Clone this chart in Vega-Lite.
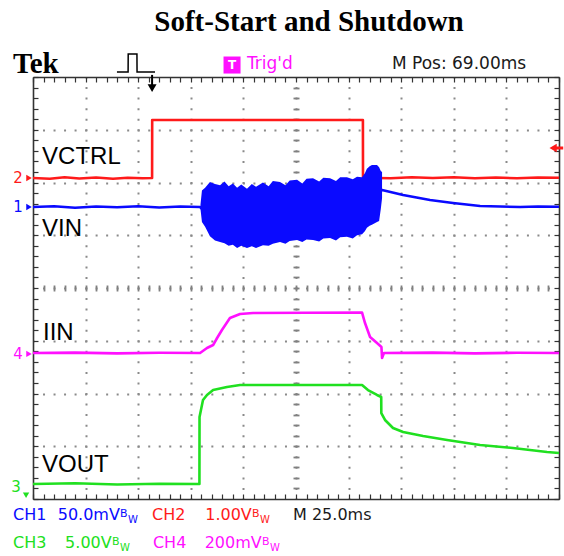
{
  "$schema": "https://vega.github.io/schema/vega-lite/v6.json",
  "width": 526,
  "height": 422,
  "autosize": {"type": "none"},
  "padding": {"left": 33, "top": 77, "right": 5, "bottom": 57},
  "background": "white",
  "title": {"text": "Soft-Start and Shutdown", "font": "Liberation Serif", "fontSize": 29, "fontWeight": "bold", "color": "#000000", "anchor": "middle", "frame": "group", "dx": 13, "offset": -10, "baseline": "alphabetic"},
  "config": {"view": {"stroke": null}},
  "resolve": {"axis": {"x": "independent", "y": "independent"}},
  "datasets": {
    "traces": [
      {"ch": "CH2", "t": 0, "v": 2.085}, {"ch": "CH2", "t": 8, "v": 2.07}, {"ch": "CH2", "t": 15, "v": 2.1}, {"ch": "CH2", "t": 22, "v": 2.075}, {"ch": "CH2", "t": 30, "v": 2.095}, {"ch": "CH2", "t": 38, "v": 2.07}, {"ch": "CH2", "t": 45, "v": 2.09}, {"ch": "CH2", "t": 52, "v": 2.08}, {"ch": "CH2", "t": 56.6, "v": 2.085}, {"ch": "CH2", "t": 56.65, "v": 3.185}, {"ch": "CH2", "t": 156.8, "v": 3.185}, {"ch": "CH2", "t": 156.85, "v": 2.09}, {"ch": "CH2", "t": 170, "v": 2.08}, {"ch": "CH2", "t": 180, "v": 2.1}, {"ch": "CH2", "t": 190, "v": 2.085}, {"ch": "CH2", "t": 200, "v": 2.1}, {"ch": "CH2", "t": 210, "v": 2.08}, {"ch": "CH2", "t": 220, "v": 2.095}, {"ch": "CH2", "t": 230, "v": 2.08}, {"ch": "CH2", "t": 240, "v": 2.095}, {"ch": "CH2", "t": 250, "v": 2.09},
      {"ch": "CH1", "t": 0, "v": 1.536}, {"ch": "CH1", "t": 10, "v": 1.55}, {"ch": "CH1", "t": 20, "v": 1.52}, {"ch": "CH1", "t": 30, "v": 1.545}, {"ch": "CH1", "t": 40, "v": 1.53}, {"ch": "CH1", "t": 50, "v": 1.55}, {"ch": "CH1", "t": 60, "v": 1.525}, {"ch": "CH1", "t": 70, "v": 1.545}, {"ch": "CH1", "t": 79.4, "v": 1.536}, {"ch": "CH1", "t": 80.3, "v": 1.5}, {"ch": "CH1", "t": 100, "v": 1.4}, {"ch": "CH1", "t": 160, "v": 1.6}, {"ch": "CH1", "t": 165.9, "v": 1.858}, {"ch": "CH1", "t": 175.9, "v": 1.763}, {"ch": "CH1", "t": 188.7, "v": 1.668}, {"ch": "CH1", "t": 199.6, "v": 1.611}, {"ch": "CH1", "t": 212.5, "v": 1.554}, {"ch": "CH1", "t": 222, "v": 1.545}, {"ch": "CH1", "t": 231.5, "v": 1.536}, {"ch": "CH1", "t": 240, "v": 1.545}, {"ch": "CH1", "t": 250, "v": 1.54},
      {"ch": "CH4", "t": 0, "v": -1.232}, {"ch": "CH4", "t": 20, "v": -1.225}, {"ch": "CH4", "t": 40, "v": -1.24}, {"ch": "CH4", "t": 60, "v": -1.228}, {"ch": "CH4", "t": 79.4, "v": -1.232}, {"ch": "CH4", "t": 82.7, "v": -1.137}, {"ch": "CH4", "t": 85.6, "v": -1.081}, {"ch": "CH4", "t": 87.5, "v": -0.948}, {"ch": "CH4", "t": 89.8, "v": -0.796}, {"ch": "CH4", "t": 93.6, "v": -0.569}, {"ch": "CH4", "t": 98.4, "v": -0.493}, {"ch": "CH4", "t": 104.6, "v": -0.474}, {"ch": "CH4", "t": 130, "v": -0.47}, {"ch": "CH4", "t": 156.4, "v": -0.465}, {"ch": "CH4", "t": 157.8, "v": -0.664}, {"ch": "CH4", "t": 160.2, "v": -0.929}, {"ch": "CH4", "t": 163.5, "v": -1.043}, {"ch": "CH4", "t": 165.6, "v": -1.118}, {"ch": "CH4", "t": 165.9, "v": -1.327}, {"ch": "CH4", "t": 166.8, "v": -1.232}, {"ch": "CH4", "t": 190, "v": -1.225}, {"ch": "CH4", "t": 210, "v": -1.24}, {"ch": "CH4", "t": 230, "v": -1.228}, {"ch": "CH4", "t": 250, "v": -1.232},
      {"ch": "CH3", "t": 0, "v": -3.716}, {"ch": "CH3", "t": 20, "v": -3.7}, {"ch": "CH3", "t": 40, "v": -3.725}, {"ch": "CH3", "t": 60, "v": -3.71}, {"ch": "CH3", "t": 79.1, "v": -3.716}, {"ch": "CH3", "t": 79.15, "v": -2.445}, {"ch": "CH3", "t": 79.85, "v": -2.31}, {"ch": "CH3", "t": 80.8, "v": -2.123}, {"ch": "CH3", "t": 82.7, "v": -2.028}, {"ch": "CH3", "t": 85.6, "v": -1.934}, {"ch": "CH3", "t": 92.2, "v": -1.877}, {"ch": "CH3", "t": 98.4, "v": -1.839}, {"ch": "CH3", "t": 156.4, "v": -1.839}, {"ch": "CH3", "t": 159.2, "v": -1.934}, {"ch": "CH3", "t": 163.5, "v": -2.028}, {"ch": "CH3", "t": 165.5, "v": -2.066}, {"ch": "CH3", "t": 165.55, "v": -2.37}, {"ch": "CH3", "t": 167.3, "v": -2.502}, {"ch": "CH3", "t": 171.1, "v": -2.654}, {"ch": "CH3", "t": 175.9, "v": -2.73}, {"ch": "CH3", "t": 185.4, "v": -2.806}, {"ch": "CH3", "t": 196.8, "v": -2.882}, {"ch": "CH3", "t": 212.5, "v": -2.976}, {"ch": "CH3", "t": 228.1, "v": -3.033}, {"ch": "CH3", "t": 244.3, "v": -3.109}, {"ch": "CH3", "t": 250, "v": -3.128}
    ],
    "burst": [
      {"ch": "CH1", "t": 79.6, "hi": 1.58, "lo": 1.5}, {"ch": "CH1", "t": 80.3, "hi": 1.85, "lo": 1.25}, {"ch": "CH1", "t": 81.8, "hi": 1.9, "lo": 1.16}, {"ch": "CH1", "t": 84.1, "hi": 2.01, "lo": 0.98}, {"ch": "CH1", "t": 86.5, "hi": 1.97, "lo": 0.9}, {"ch": "CH1", "t": 88.9, "hi": 1.95, "lo": 0.87}, {"ch": "CH1", "t": 91, "hi": 2.02, "lo": 0.85}, {"ch": "CH1", "t": 93, "hi": 1.93, "lo": 0.8}, {"ch": "CH1", "t": 95, "hi": 1.98, "lo": 0.82}, {"ch": "CH1", "t": 97, "hi": 1.9, "lo": 0.76}, {"ch": "CH1", "t": 99, "hi": 1.96, "lo": 0.8}, {"ch": "CH1", "t": 101.7, "hi": 1.88, "lo": 0.76}, {"ch": "CH1", "t": 104, "hi": 1.97, "lo": 0.79}, {"ch": "CH1", "t": 106, "hi": 1.92, "lo": 0.76}, {"ch": "CH1", "t": 109.3, "hi": 2.0, "lo": 0.81}, {"ch": "CH1", "t": 112, "hi": 1.93, "lo": 0.8}, {"ch": "CH1", "t": 114, "hi": 2.03, "lo": 0.84}, {"ch": "CH1", "t": 117.4, "hi": 2.01, "lo": 0.87}, {"ch": "CH1", "t": 120, "hi": 1.95, "lo": 0.84}, {"ch": "CH1", "t": 122, "hi": 2.04, "lo": 0.89}, {"ch": "CH1", "t": 125.5, "hi": 2.05, "lo": 0.91}, {"ch": "CH1", "t": 128, "hi": 1.98, "lo": 0.87}, {"ch": "CH1", "t": 130, "hi": 2.07, "lo": 0.92}, {"ch": "CH1", "t": 133.1, "hi": 2.08, "lo": 0.91}, {"ch": "CH1", "t": 136, "hi": 2.02, "lo": 0.88}, {"ch": "CH1", "t": 138, "hi": 2.09, "lo": 0.94}, {"ch": "CH1", "t": 141.2, "hi": 2.08, "lo": 0.95}, {"ch": "CH1", "t": 144, "hi": 2.03, "lo": 0.9}, {"ch": "CH1", "t": 146, "hi": 2.1, "lo": 0.96}, {"ch": "CH1", "t": 149.2, "hi": 2.1, "lo": 0.97}, {"ch": "CH1", "t": 152, "hi": 2.06, "lo": 0.94}, {"ch": "CH1", "t": 154, "hi": 2.11, "lo": 1.0}, {"ch": "CH1", "t": 156.4, "hi": 2.1, "lo": 1.02}, {"ch": "CH1", "t": 157.8, "hi": 2.18, "lo": 1.08}, {"ch": "CH1", "t": 158.7, "hi": 2.26, "lo": 1.14}, {"ch": "CH1", "t": 160, "hi": 2.31, "lo": 1.18}, {"ch": "CH1", "t": 161.1, "hi": 2.33, "lo": 1.2}, {"ch": "CH1", "t": 163.5, "hi": 2.33, "lo": 1.25}, {"ch": "CH1", "t": 164.5, "hi": 2.29, "lo": 1.27}, {"ch": "CH1", "t": 165.3, "hi": 2.22, "lo": 1.5}, {"ch": "CH1", "t": 165.9, "hi": 2.2, "lo": 1.7}
    ],
    "labels": [
      {"label": "VCTRL", "t": 4.3, "v": 2.35}, {"label": "VIN", "t": 4.3, "v": 0.986}, {"label": "IIN", "t": 4.75, "v": -0.986}, {"label": "VOUT", "t": 4.3, "v": -3.488}
    ],
    "header": [
      {"text": "Trig'd", "ch": "CH4", "t": 101.7, "v": 4.152}, {"text": "M Pos: 69.00ms", "ch": "M", "t": 170.6, "v": 4.152}
    ],
    "footer": [
      {"text": "CH1", "ch": "CH1", "t": -9.5, "v": -4.398}, {"text": "CH2", "ch": "CH2", "t": 56.6, "v": -4.398}, {"text": "M 25.0ms", "ch": "M", "t": 123.6, "v": -4.398},
      {"text": "CH3", "ch": "CH3", "t": -9.5, "v": -4.929}, {"text": "CH4", "ch": "CH4", "t": 57.0, "v": -4.929}
    ],
    "scales": [
      {"text": "50.0mV", "ch": "CH1", "t": 41.3, "v": -4.398}, {"text": "1.00V", "ch": "CH2", "t": 104.0, "v": -4.398},
      {"text": "5.00V", "ch": "CH3", "t": 37.4, "v": -4.929}, {"text": "200mV", "ch": "CH4", "t": 108.7, "v": -4.929}
    ],
    "bw": [
      {"g": "B", "ch": "CH1", "t": 41.4, "v": -4.341}, {"g": "W", "ch": "CH1", "t": 45.2, "v": -4.455},
      {"g": "B", "ch": "CH2", "t": 104.1, "v": -4.341}, {"g": "W", "ch": "CH2", "t": 107.9, "v": -4.455},
      {"g": "B", "ch": "CH3", "t": 37.5, "v": -4.872}, {"g": "W", "ch": "CH3", "t": 41.4, "v": -4.986},
      {"g": "B", "ch": "CH4", "t": 108.8, "v": -4.872}, {"g": "W", "ch": "CH4", "t": 112.6, "v": -4.986}
    ],
    "chan": [
      {"num": "1", "ch": "CH1", "t": -7.1, "v": 1.536}, {"num": "2", "ch": "CH2", "t": -7.1, "v": 2.085}, {"num": "4", "ch": "CH4", "t": -7.1, "v": -1.25}, {"num": "3", "ch": "CH3", "t": -8.1, "v": -3.773}
    ],
    "icon": [
      {"t": 39.9, "v": 4.095}, {"t": 45.2, "v": 4.095}, {"t": 45.25, "v": 4.436}, {"t": 49.4, "v": 4.436}, {"t": 49.45, "v": 4.095}, {"t": 58.0, "v": 4.095}
    ]
  },
  "layer": [
    {
      "data": {"name": "traces"},
      "mark": {"type": "line", "strokeWidth": 2.6, "strokeJoin": "round"},
      "encoding": {
        "x": {"field": "t", "type": "quantitative", "scale": {"domain": [0, 250], "nice": false, "zero": false},
          "axis": {"orient": "bottom", "values": [25, 50, 75, 100, 125, 150, 175, 200, 225], "grid": true, "gridColor": "#8a8a8a", "gridWidth": 2, "gridDash": [2, 8.55], "gridDashOffset": 1, "domain": false, "ticks": false, "labels": false, "title": null}},
        "y": {"field": "v", "type": "quantitative", "scale": {"domain": [-4, 4], "nice": false, "zero": false},
          "axis": {"orient": "left", "values": [-3, -2, -1, 0, 1, 2, 3], "grid": true, "gridColor": "#8a8a8a", "gridWidth": 2, "gridDash": [2, 8.52], "gridDashOffset": 1, "domain": false, "ticks": false, "labels": false, "title": null}},
        "color": {"field": "ch", "type": "nominal", "scale": {"domain": ["CH1", "CH2", "CH3", "CH4", "M"], "range": ["#0a0aff", "#ff1a1a", "#20e020", "#ff10ff", "#1a1a1a"]}, "legend": null}
      }
    },
    {
      "data": {"name": "burst"},
      "mark": {"type": "area", "opacity": 1},
      "encoding": {
        "x": {"field": "t", "type": "quantitative",
          "axis": {"orient": "bottom", "values": [0,5,10,15,20,25,30,35,40,45,50,55,60,65,70,75,80,85,90,95,100,105,110,115,120,125,130,135,140,145,150,155,160,165,170,175,180,185,190,195,200,205,210,215,220,225,230,235,240,245,250], "domain": true, "domainColor": "#333333", "domainWidth": 1.6, "ticks": true, "tickSize": -5, "tickColor": "#333333", "tickWidth": 1.2, "labels": false, "grid": false, "title": null}},
        "y": {"field": "hi", "type": "quantitative",
          "axis": {"orient": "left", "values": [-4,-3.8,-3.6,-3.4,-3.2,-3,-2.8,-2.6,-2.4,-2.2,-2,-1.8,-1.6,-1.4,-1.2,-1,-0.8,-0.6,-0.4,-0.2,0,0.2,0.4,0.6,0.8,1,1.2,1.4,1.6,1.8,2,2.2,2.4,2.6,2.8,3,3.2,3.4,3.6,3.8,4], "domain": true, "domainColor": "#333333", "domainWidth": 1.6, "ticks": true, "tickSize": -5, "tickColor": "#333333", "tickWidth": 1.2, "labels": false, "grid": false, "title": null}},
        "y2": {"field": "lo"},
        "color": {"field": "ch", "type": "nominal", "legend": null}
      }
    },
    {
      "data": {"name": "labels"},
      "mark": {"type": "text", "font": "Liberation Sans", "fontSize": 24, "color": "#000000", "align": "left", "baseline": "alphabetic"},
      "encoding": {
        "x": {"field": "t", "type": "quantitative",
          "axis": {"orient": "top", "values": [0,5,10,15,20,25,30,35,40,45,50,55,60,65,70,75,80,85,90,95,100,105,110,115,120,125,130,135,140,145,150,155,160,165,170,175,180,185,190,195,200,205,210,215,220,225,230,235,240,245,250], "domain": true, "domainColor": "#333333", "domainWidth": 1.6, "ticks": true, "tickSize": -5, "tickColor": "#333333", "tickWidth": 1.2, "labels": false, "grid": false, "title": null}},
        "y": {"field": "v", "type": "quantitative",
          "axis": {"orient": "right", "values": [-4,-3.8,-3.6,-3.4,-3.2,-3,-2.8,-2.6,-2.4,-2.2,-2,-1.8,-1.6,-1.4,-1.2,-1,-0.8,-0.6,-0.4,-0.2,0,0.2,0.4,0.6,0.8,1,1.2,1.4,1.6,1.8,2,2.2,2.4,2.6,2.8,3,3.2,3.4,3.6,3.8,4], "domain": true, "domainColor": "#333333", "domainWidth": 1.6, "ticks": true, "tickSize": -5, "tickColor": "#333333", "tickWidth": 1.2, "labels": false, "grid": false, "title": null}},
        "text": {"field": "label"}
      }
    },
    {
      "data": {"name": "header"},
      "mark": {"type": "text", "font": "DejaVu Sans", "fontSize": 17, "align": "left", "baseline": "alphabetic"},
      "encoding": {
        "x": {"field": "t", "type": "quantitative",
          "axis": {"orient": "bottom", "offset": -214, "values": [5,10,15,20,25,30,35,40,45,50,55,60,65,70,75,80,85,90,95,100,105,110,115,120,125,130,135,140,145,150,155,160,165,170,175,180,185,190,195,200,205,210,215,220,225,230,235,240,245], "domain": false, "ticks": true, "tickSize": 6, "tickColor": "#808080", "tickWidth": 1.8, "labels": false, "grid": false, "title": null}},
        "y": {"field": "v", "type": "quantitative",
          "axis": {"orient": "left", "offset": -266, "values": [-3.8,-3.6,-3.4,-3.2,-3,-2.8,-2.6,-2.4,-2.2,-2,-1.8,-1.6,-1.4,-1.2,-1,-0.8,-0.6,-0.4,-0.2,0,0.2,0.4,0.6,0.8,1,1.2,1.4,1.6,1.8,2,2.2,2.4,2.6,2.8,3,3.2,3.4,3.6,3.8], "domain": false, "ticks": true, "tickSize": 6, "tickColor": "#808080", "tickWidth": 1.8, "labels": false, "grid": false, "title": null}},
        "color": {"field": "ch", "type": "nominal", "legend": null},
        "text": {"field": "text"}
      }
    },
    {
      "data": {"name": "footer"},
      "mark": {"type": "text", "font": "DejaVu Sans", "fontSize": 16, "align": "left", "baseline": "alphabetic"},
      "encoding": {
        "x": {"field": "t", "type": "quantitative", "axis": null},
        "y": {"field": "v", "type": "quantitative", "axis": null},
        "color": {"field": "ch", "type": "nominal", "legend": null},
        "text": {"field": "text"}
      }
    },
    {
      "data": {"name": "scales"},
      "mark": {"type": "text", "font": "DejaVu Sans", "fontSize": 16, "align": "right", "baseline": "alphabetic"},
      "encoding": {
        "x": {"field": "t", "type": "quantitative", "axis": null},
        "y": {"field": "v", "type": "quantitative", "axis": null},
        "color": {"field": "ch", "type": "nominal", "legend": null},
        "text": {"field": "text"}
      }
    },
    {
      "data": {"name": "bw"},
      "transform": [{"filter": "datum.g === 'B'"}],
      "mark": {"type": "text", "font": "DejaVu Sans", "fontSize": 11, "align": "left", "baseline": "alphabetic"},
      "encoding": {
        "x": {"field": "t", "type": "quantitative", "axis": null},
        "y": {"field": "v", "type": "quantitative", "axis": null},
        "color": {"field": "ch", "type": "nominal", "legend": null},
        "text": {"field": "g"}
      }
    },
    {
      "data": {"name": "bw"},
      "transform": [{"filter": "datum.g === 'W'"}],
      "mark": {"type": "text", "font": "DejaVu Sans", "fontSize": 10, "align": "left", "baseline": "alphabetic"},
      "encoding": {
        "x": {"field": "t", "type": "quantitative", "axis": null},
        "y": {"field": "v", "type": "quantitative", "axis": null},
        "color": {"field": "ch", "type": "nominal", "legend": null},
        "text": {"field": "g"}
      }
    },
    {
      "data": {"name": "chan"},
      "mark": {"type": "text", "font": "DejaVu Sans", "fontSize": 15, "align": "center", "baseline": "middle"},
      "encoding": {
        "x": {"field": "t", "type": "quantitative", "axis": null},
        "y": {"field": "v", "type": "quantitative", "axis": null},
        "color": {"field": "ch", "type": "nominal", "legend": null},
        "text": {"field": "num"}
      }
    },
    {
      "data": {"name": "chan"},
      "transform": [{"filter": "datum.ch !== 'CH3'"}],
      "mark": {"type": "point", "shape": "triangle-right", "filled": true, "size": 40, "opacity": 1},
      "encoding": {
        "x": {"datum": -1.9, "type": "quantitative", "axis": null},
        "y": {"field": "v", "type": "quantitative", "axis": null},
        "color": {"field": "ch", "type": "nominal", "legend": null}
      }
    },
    {
      "data": {"name": "chan"},
      "transform": [{"filter": "datum.ch === 'CH3'"}],
      "mark": {"type": "point", "shape": "triangle-down", "filled": true, "size": 40, "opacity": 1},
      "encoding": {
        "x": {"datum": -3.3, "type": "quantitative", "axis": null},
        "y": {"datum": -3.93, "type": "quantitative", "axis": null},
        "color": {"field": "ch", "type": "nominal", "legend": null}
      }
    },
    {
      "data": {"values": [{"ch": "CH2", "t": 247.2, "t2": 252, "v": 2.654}]},
      "mark": {"type": "rule", "strokeWidth": 3},
      "encoding": {
        "x": {"field": "t", "type": "quantitative", "axis": null},
        "x2": {"field": "t2"},
        "y": {"field": "v", "type": "quantitative", "axis": null},
        "color": {"field": "ch", "type": "nominal", "legend": null}
      }
    },
    {
      "data": {"values": [{"ch": "CH2", "t": 247.2, "v": 2.654}]},
      "mark": {"type": "point", "shape": "triangle-left", "filled": true, "size": 70, "opacity": 1},
      "encoding": {
        "x": {"field": "t", "type": "quantitative", "axis": null},
        "y": {"field": "v", "type": "quantitative", "axis": null},
        "color": {"field": "ch", "type": "nominal", "legend": null}
      }
    },
    {
      "data": {"values": [{"t": 56.6, "v": 4.04, "v2": 3.84}]},
      "mark": {"type": "rule", "strokeWidth": 2, "color": "#000000"},
      "encoding": {
        "x": {"field": "t", "type": "quantitative", "axis": null},
        "y": {"field": "v", "type": "quantitative", "axis": null},
        "y2": {"field": "v2"}
      }
    },
    {
      "data": {"values": [{"t": 56.6, "v": 3.79}]},
      "mark": {"type": "point", "shape": "triangle-down", "filled": true, "size": 80, "color": "#000000", "opacity": 1},
      "encoding": {
        "x": {"field": "t", "type": "quantitative", "axis": null},
        "y": {"field": "v", "type": "quantitative", "axis": null}
      }
    },
    {
      "data": {"values": [{"t": 94.6, "v": 4.227, "ch": "CH4"}]},
      "mark": {"type": "point", "shape": "square", "filled": true, "size": 290, "opacity": 1},
      "encoding": {
        "x": {"field": "t", "type": "quantitative", "axis": null},
        "y": {"field": "v", "type": "quantitative", "axis": null},
        "color": {"field": "ch", "type": "nominal", "legend": null}
      }
    },
    {
      "data": {"values": [{"t": 94.6, "v": 4.227, "s": "T"}]},
      "mark": {"type": "text", "font": "DejaVu Sans", "fontSize": 12, "fontWeight": "bold", "color": "#ffffff", "align": "center", "baseline": "middle"},
      "encoding": {
        "x": {"field": "t", "type": "quantitative", "axis": null},
        "y": {"field": "v", "type": "quantitative", "axis": null},
        "text": {"field": "s"}
      }
    },
    {
      "data": {"name": "icon"},
      "mark": {"type": "line", "strokeWidth": 1.5, "color": "#000000"},
      "encoding": {
        "x": {"field": "t", "type": "quantitative", "axis": null},
        "y": {"field": "v", "type": "quantitative", "axis": null}
      }
    },
    {
      "data": {"values": [{"t": -9.5, "v": 4.076, "s": "Tek"}]},
      "mark": {"type": "text", "font": "Liberation Serif", "fontSize": 29, "fontWeight": "bold", "color": "#000000", "align": "left", "baseline": "alphabetic"},
      "encoding": {
        "x": {"field": "t", "type": "quantitative", "axis": null},
        "y": {"field": "v", "type": "quantitative", "axis": null},
        "text": {"field": "s"}
      }
    }
  ]
}
